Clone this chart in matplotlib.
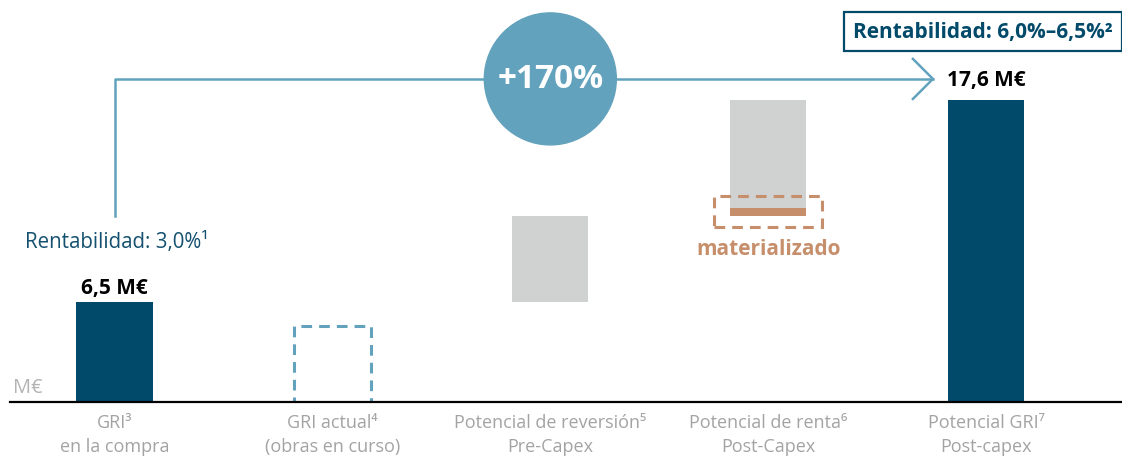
import matplotlib.pyplot as plt
from matplotlib.patches import Rectangle, Ellipse

plt.rcParams['font.family'] = ['Open Sans', 'DejaVu Sans']

# data (M€)
categories = ["GRI³\nen la compra", "GRI actual⁴\n(obras en curso)",
              "Potencial de reversión⁵\nPre-Capex", "Potencial de renta⁶\nPost-Capex",
              "Potencial GRI⁷\nPost-capex"]
gri_compra = 6.5
gri_actual = 5.2
reversion = 4.7
renta = 6.4
materializado = 0.45
gri_potencial = 17.6
label_compra = "6,5 M€"
label_potencial = "17,6 M€"
rent_compra = "Rentabilidad: 3,0%¹"
rent_potencial = "Rentabilidad: 6,0%–6,5%²"
growth = "+170%"

DARK = '#014a6a'
LIGHT = '#63a2bd'
GREY = '#d0d2d1'
ORANGE = '#c68e6b'
TXT_GREY = '#a3a3a3'

fig = plt.figure(figsize=(11.22, 4.6), dpi=100)
ax = fig.add_axes([0, 57 / 460, 1, 403 / 460])
ax.set_xlim(-0.5255, 4.6236)
ax.set_ylim(1.0, 23.14)
for s in ax.spines.values():
    s.set_visible(False)
ax.set_yticks([])
ax.set_xticks(range(len(categories)))
ax.set_xticklabels(categories, fontsize=13, color=TXT_GREY, linespacing=1.4)
ax.tick_params(axis='x', length=0, pad=8)

w = 0.35
ax.bar(0, gri_compra, width=w, color=DARK)
ax.bar(1, gri_actual, width=w, fill=False, edgecolor=LIGHT, linewidth=2.2,
       linestyle=(0, (3.5, 2.3)))
ax.bar(2, reversion, bottom=gri_compra, width=w, color=GREY)
base4 = gri_compra + reversion
ax.bar(3, materializado, bottom=base4, width=w, color=ORANGE)
ax.bar(3, renta - materializado, bottom=base4 + materializado, width=w, color=GREY)
ax.bar(4, gri_potencial, width=w, color=DARK)

# dashed box around the materialised part
ax.add_patch(Rectangle((3 - 0.248, base4 - 0.58), 0.496, 1.70, fill=False,
                       edgecolor=ORANGE, linewidth=2.2, linestyle=(0, (3.5, 2.3))))
ax.text(3, 9.41, "materializado", ha='center', va='center', fontsize=15,
        fontweight='bold', color=ORANGE)

# baseline
ax.plot([-0.48, 4.63], [1.0, 1.0], color='black', linewidth=1.6, clip_on=False, zorder=6)
ax.text(-0.466, 1.55, "M€", fontsize=14.5, color='#b3b3b3', va='baseline')

# value labels
ax.annotate(label_compra, (0, gri_compra), xytext=(0, 6.5), textcoords='offset points',
            ha='center', va='baseline', fontsize=15, fontweight='bold')
ax.annotate(label_potencial, (4, gri_potencial), xytext=(0, 11), textcoords='offset points',
            ha='center', va='baseline', fontsize=15, fontweight='bold')
ax.text(-0.411, 9.52, rent_compra, fontsize=14.8, color='#14506f', va='baseline')

# growth arrow
line_y = 18.75
ax.plot([0, 0, 3.756], [11.22, line_y, line_y], color=LIGHT, linewidth=1.8, zorder=3)
ax.plot([3.664, 3.756, 3.664], [line_y + 1.1, line_y, line_y - 1.1], color=LIGHT,
        linewidth=1.8, zorder=3)
ax.add_patch(Ellipse((2, line_y), 132 / 217.9, 132 / 18.2, color=LIGHT, zorder=5))
ax.text(2, line_y, growth, ha='center', va='center', fontsize=24, fontweight='bold',
        color='white', zorder=6)

# yield box
ax.add_patch(Rectangle((3.348, 20.29), 1.276, 2.14, fill=False, edgecolor=DARK,
                       linewidth=1.6, clip_on=False))
ax.text(3.985, 21.36, rent_potencial, ha='center', va='center', fontsize=15,
        fontweight='bold', color=DARK)

fig.savefig('out.png', dpi=100)
